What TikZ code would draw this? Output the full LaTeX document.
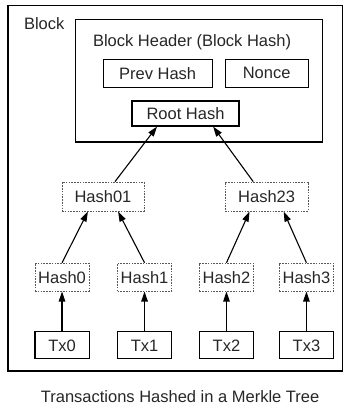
\documentclass[tikz,border=0pt]{standalone}
\usepackage{fontspec}
\setmainfont{Liberation Sans}
\usetikzlibrary{arrows.meta}

\begin{document}
\begin{tikzpicture}[
    every node/.style={font=\fontsize{16.5}{19}\selectfont,text=black!85},
    field/.style={draw,line width=1.1pt,inner sep=0pt,minimum height=0.98cm},
    hashbox/.style={draw,black!65,text=black!85,dash pattern=on 1.6pt off 1.2pt,line width=0.9pt,
      inner sep=0pt,minimum width=1.9cm,minimum height=0.98cm},
    link/.style={-{Triangle[length=10pt,width=6.5pt]},line width=1.1pt},
  ]
    \useasboundingbox (0,0) rectangle (12.09,-14.41);
      \node[draw,line width=1.2pt,inner sep=0pt,minimum width=11.75cm,minimum height=12.86cm] (Blk) at (6.155,-6.61) {};
      \node[anchor=west] () at (0.72,-0.84) {Block};
      \node[draw,line width=1.1pt,inner sep=0pt,minimum width=8.71cm,minimum height=4.32cm] (Hdr) at (6.995,-2.83) {};
      \node[] () at (6.75,-1.48) {Block Header (Block Hash)};
      \node[field,minimum width=3.83cm] (Prev) at (5.54,-2.57) {Prev Hash};
      \node[field,minimum width=2.92cm] (Nonce) at (9.37,-2.57) {Nonce};
      \node[field,minimum width=3.76cm,minimum height=0.88cm] (Root) at (6.52,-3.99) {Root Hash};
      \node[hashbox,minimum width=2.88cm,minimum height=1.02cm] (H01) at (3.62,-6.91) {Hash01};
      \node[hashbox,minimum width=2.92cm,minimum height=1.02cm] (H23) at (9.37,-6.91) {Hash23};
      \node[hashbox] (H0) at (2.18,-9.74) {Hash0};
      \node[hashbox] (H1) at (5.08,-9.74) {Hash1};
      \node[hashbox] (H2) at (7.96,-9.74) {Hash2};
      \node[hashbox] (H3) at (10.77,-9.74) {Hash3};
      \node[field,minimum width=1.9cm,minimum height=0.95cm] (Tx0) at (2.18,-12.14) {Tx0};
      \node[field,minimum width=1.9cm,minimum height=0.95cm] (Tx1) at (5.08,-12.14) {Tx1};
      \node[field,minimum width=1.9cm,minimum height=0.95cm] (Tx2) at (7.96,-12.14) {Tx2};
      \node[field,minimum width=1.9cm,minimum height=0.95cm] (Tx3) at (10.77,-12.14) {Tx3};
      \node[] () at (6.33,-13.95) {Transactions Hashed in a Merkle Tree};
      \draw[link] (Tx0) -- (H0);
      \draw[link] (Tx1) -- (H1);
      \draw[link] (Tx2) -- (H2);
      \draw[link] (Tx3) -- (H3);
      \draw[link] (H0.north) -- ([xshift=-0.53cm]H01.south);
      \draw[link] (H1.north) -- ([xshift=0.53cm]H01.south);
      \draw[link] (H2.north) -- ([xshift=-0.6cm]H23.south);
      \draw[link] (H3.north) -- ([xshift=0.6cm]H23.south);
      \draw[link] ([xshift=0.42cm]H01.north) -- ([xshift=-1.0cm]Root.south);
      \draw[link] ([xshift=-0.47cm]H23.north) -- ([xshift=0.97cm]Root.south);
\end{tikzpicture}
\end{document}
